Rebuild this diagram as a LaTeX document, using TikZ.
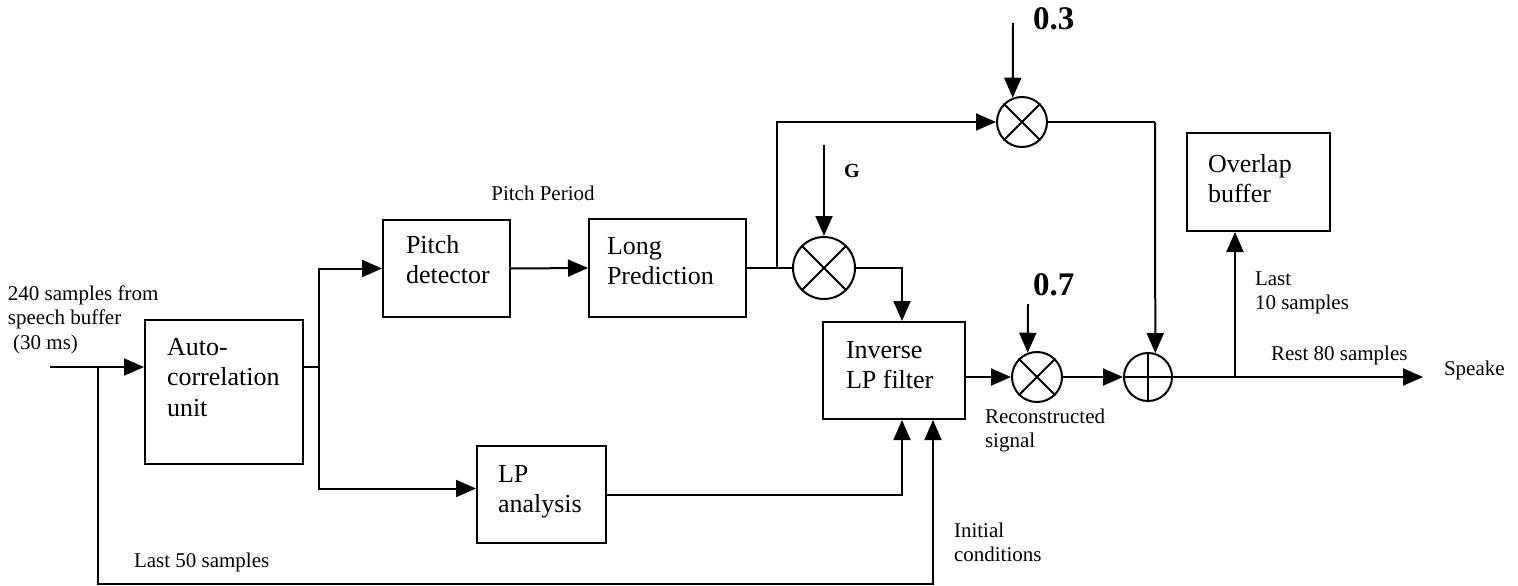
\documentclass[tikz,border=0pt]{standalone}
\usepackage{fontspec}
\setmainfont{Liberation Serif}
\usetikzlibrary{arrows.meta,calc}

% multi-line text whose baseline is the first line's
\newcommand{\stk}[1]{\begin{tabular}[t]{@{}l@{}}#1\end{tabular}}

\begin{document}
\begin{tikzpicture}[x=1pt,y=-1pt,line width=2pt,
  blk/.style={draw,inner sep=0pt},
  boxtxt/.style={anchor=base west,inner sep=0pt,font=\fontsize{26}{30.5}\selectfont},
  lbl/.style={anchor=base west,inner sep=0pt,font=\fontsize{21}{24.5}\selectfont},
  gain/.style={anchor=base west,inner sep=0pt,font=\bfseries\fontsize{33}{36}\selectfont},
  mult/.style={draw,circle,inner sep=0pt,minimum size=#1,
    append after command={
      (\tikzlastnode.45) edge[-] (\tikzlastnode.225)
      (\tikzlastnode.135) edge[-] (\tikzlastnode.315)}},
  summ/.style={draw,circle,inner sep=0pt,minimum size=#1,
    append after command={
      (\tikzlastnode.north) edge[-] (\tikzlastnode.south)
      (\tikzlastnode.west) edge[-] (\tikzlastnode.east)}},
  arr/.style={-{Triangle[length=20pt,width=17pt]}}]

\useasboundingbox (0,0) rectangle (1518,586);

% processing blocks
\node[blk,minimum width=158pt,minimum height=144pt] (auto)  at (224,392)   {};
\node[blk,minimum width=127pt,minimum height=97pt]  (pitch) at (446.5,268.5) {};
\node[blk,minimum width=157pt,minimum height=98pt]  (longp) at (667.5,268) {};
\node[blk,minimum width=129pt,minimum height=97pt]  (lpa)   at (541.5,494.5) {};
\node[blk,minimum width=142pt,minimum height=97pt]  (inv)   at (894,370.5) {};
\node[blk,minimum width=143pt,minimum height=98pt]  (ovl)   at (1258.5,182) {};

% block texts
\node[boxtxt] at (166,355) {\stk{Auto-\\correlation\\unit}};
\node[boxtxt] at (405,253) {\stk{Pitch\\detector}};
\node[boxtxt] at (606,254) {\stk{Long\\Prediction}};
\node[boxtxt] at (497,482) {\stk{LP\\analysis}};
\node[boxtxt] at (845,358) {\stk{Inverse\\LP filter}};
\node[boxtxt] at (1207,172) {\stk{Overlap\\buffer}};

% multipliers and adder
\node[mult=62pt] (mulG) at (824,268) {};
\node[mult=50pt] (mul3) at (1022,122) {};
\node[mult=50pt] (mul7) at (1037,377) {};
\node[summ=48pt] (add)  at (1148,377) {};

% branch points and free ends
\coordinate (in)  at (50,367);
\coordinate (s1)  at (98,367);
\coordinate (s2)  at (319,367);
\coordinate (s3)  at (777,268);
\coordinate (t1)  at (902,0);
\coordinate (ic)  at (933,584);
\coordinate (gin) at (824,145);
\coordinate (k3)  at (1013,23);
\coordinate (k7)  at (1028,304);
\coordinate (c3)  at (1155,122);
\coordinate (b2)  at (1235,377);
\coordinate (outp) at (1423,377);

% signal flow
\draw[arr] (in) -- (in -| auto.west);
\draw[arr] (s1) |- (ic) -- (ic |- inv.south);
\draw (auto.east |- s2) -- (s2);
\draw[arr] (s2) |- (pitch.west);
\draw[arr] (s2) |- ($(lpa.west)+(0,-6)$);
\draw[arr] (pitch.east) -- (longp.west);
\draw (longp.east) -- (mulG.west);
\draw[arr] (s3) |- (mul3.west);
\draw[arr] (gin) -- (mulG.north);
\draw[arr] (mulG.east) -| (t1 |- inv.north);
\draw[arr] (lpa.east) -| (t1 |- inv.south);
\draw[arr] (k3) -- (mul3.111);
\draw (mul3.east) -- (c3);
\draw[arr] (c3) -- (add.73);
\draw[arr] (k7) -- (mul7.111);
\draw[arr] (inv.east |- mul7) -- (mul7.west);
\draw[arr] (mul7.east) -- (add.west);
\draw[arr] (add.east) -- (outp);
\draw[arr] (b2) -- (b2 |- ovl.south);

% labels
\node[lbl] at (7,300) {\stk{240 samples from\\speech buffer\\\ (30 ms)}};
\node[lbl,anchor=base] at (543,200) {Pitch Period};
\node[anchor=base west,inner sep=0pt,font=\bfseries\fontsize{20}{22}\selectfont] at (843,177) {G};
\node[gain] at (1032,30) {0.3};
\node[gain] at (1032,295) {0.7};
\node[lbl] at (984,423) {\stk{Reconstructed\\signal}};
\node[lbl] at (953,537) {\stk{Initial\\conditions}};
\node[lbl] at (133,567) {Last 50 samples};
\node[lbl] at (1254,285) {\stk{Last\\10 samples}};
\node[lbl] at (1270,360) {Rest 80 samples};
\node[lbl] at (1443,375) {Speake};

\end{tikzpicture}
\end{document}
